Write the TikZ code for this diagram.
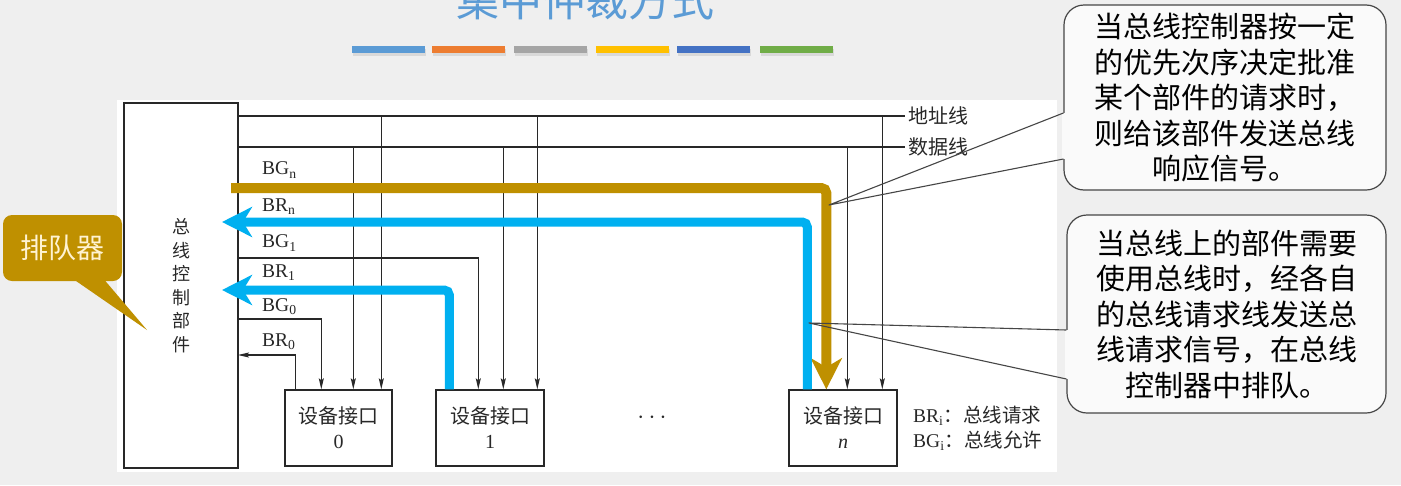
\documentclass[tikz,border=0pt]{standalone}
\usepackage{fontspec}
\setmainfont{Liberation Serif}
\newfontfamily\cjk{Noto Sans CJK SC}
\usepackage{tikz}
\usetikzlibrary{arrows.meta,positioning,calc}
\definecolor{PageGray}{RGB}{239,239,239}
\definecolor{NoteFill}{RGB}{250,250,250}
\definecolor{NoteEdge}{RGB}{70,70,70}
\definecolor{TitleBlue}{RGB}{91,155,213}
\definecolor{BarOrange}{RGB}{237,125,49}
\definecolor{BarGray}{RGB}{165,165,165}
\definecolor{BarYellow}{RGB}{255,192,0}
\definecolor{BarBlue}{RGB}{68,114,196}
\definecolor{BarGreen}{RGB}{112,173,71}
\definecolor{GrantGold}{RGB}{191,144,0}
\definecolor{QueueText}{RGB}{255,243,210}
\definecolor{RequestBlue}{RGB}{0,176,240}
\definecolor{WireGray}{RGB}{40,40,40}
\tikzset{
  ctrlbox/.style={draw=WireGray,line width=1.4pt,minimum width=114pt,
    minimum height=365pt,align=center,inner sep=0pt,text=WireGray,
    font=\cjk\fontsize{18}{23.5}\selectfont},
  unitbox/.style={draw=WireGray,line width=1.4pt,fill=white,minimum width=108pt,
    minimum height=76pt,align=center,text=WireGray,font=\fontsize{20}{25}\selectfont},
  buslabel/.style={anchor=west,inner sep=3pt,text=WireGray,
    font=\cjk\fontsize{20}{20}\selectfont},
  siglabel/.style={anchor=west,inner sep=0pt,text=WireGray,
    font=\fontsize{19.5}{20}\selectfont},
  wire/.style={draw=WireGray,line width=1.1pt},
  tap/.style={wire,-{Stealth[length=11pt,width=5pt,inset=2pt]}},
  grant/.style={draw=GrantGold,line width=10pt,rounded corners=5pt,
    -{Stealth[length=31pt,width=31pt,inset=9pt]}},
  request/.style={draw=RequestBlue,line width=9pt,rounded corners=5pt,
    -{Stealth[length=30pt,width=30pt,inset=9pt]}},
  notebox/.style={draw=NoteEdge,line width=1.2pt,fill=NoteFill,
    rounded corners=20pt,align=center,inner sep=0pt,
    font=\cjk\fontsize{29}{35.5}\selectfont},
  noteline/.style={draw=NoteEdge,line width=1.1pt,line join=round},
  queuebox/.style={fill=GrantGold,rounded corners=9pt,minimum width=119pt,
    minimum height=66pt,text=QueueText,font=\cjk\fontsize{28}{30}\selectfont}
}
\begin{document}
\begin{tikzpicture}[x=1pt,y=-1pt]
\useasboundingbox (0,0) rectangle (1401,485);
\fill[PageGray] (0,0) rectangle (1401,485);
\node[anchor=base,text=TitleBlue,font=\cjk\fontsize{43}{43}\selectfont] (title) at (585,16) {集中仲裁方式};
% colour bars under the title
\foreach \bx/\bc in {352/TitleBlue,432/BarOrange,514/BarGray,596/BarYellow,677/BarBlue,760/BarGreen}{
  \fill[black!15] (\bx+1,49) rectangle (\bx+74,56);
  \fill[\bc] (\bx,46) rectangle (\bx+73,53);
}
\fill[white] (117,100) rectangle (1057,472);

% controller and devices
\node[ctrlbox] (ctrl) at (181,285.5) {总\\线\\控\\制\\部\\件};
\node[unitbox,minimum width=107pt] (dev0) at (338.5,428) {{\cjk 设备接口}\\0};
\node[unitbox] (dev1) at (490,428) {{\cjk 设备接口}\\1};
\node[unitbox] (devn) at (843,428) {{\cjk 设备接口}\\\textit{n}};
\node[text=WireGray,font=\fontsize{26}{26}\selectfont] (dots) at (652,418) {$\cdots$};

\path (dev0.north west) ++(11,0) coordinate (r0) ++(26,0) coordinate (g0) ++(32,0) coordinate (d0) ++(28,0) coordinate (a0);
\path (dev1.north west) ++(14,0) coordinate (r1) ++(29,0) coordinate (g1) ++(25,0) coordinate (d1) ++(34,0) coordinate (a1);
\path (devn.north west) ++(19,0) coordinate (rn) ++(19,0) coordinate (gn) ++(21,0) coordinate (dn) ++(35,0) coordinate (an);

% address and data bus
\node[buslabel] (addr) at (905,116) {地址线};
\node[buslabel] (data) at (905,147) {数据线};
\draw[wire] (ctrl.east |- addr) -- (addr.west);
\draw[wire] (ctrl.east |- data) -- (data.west);
\foreach \t in {a0,a1,an} \draw[tap] (addr -| \t) -- (\t);
\foreach \t in {d0,d1,dn} \draw[tap] (data -| \t) -- (\t);

% grant / request lines
\coordinate (bgnrow) at (238,188);
\coordinate (brnrow) at (238,222);
\coordinate (bg1row) at (238,258);
\coordinate (br1row) at (238,290);
\coordinate (bg0row) at (238,319);
\coordinate (br0row) at (238,355);
\node[siglabel] (bgnlbl) at (262,170) {BG\textsubscript{n}};
\node[siglabel] (brnlbl) at (262,207) {BR\textsubscript{n}};
\node[siglabel] (bg1lbl) at (262,243) {BG\textsubscript{1}};
\node[siglabel] (br1lbl) at (262,273) {BR\textsubscript{1}};
\node[siglabel] (bg0lbl) at (262,307) {BG\textsubscript{0}};
\node[siglabel] (br0lbl) at (262,342) {BR\textsubscript{0}};
\draw[tap] (bgnrow) -| (gn);
\draw[tap] (rn) |- (brnrow);
\draw[tap] (bg1row) -| (g1);
\draw[tap] (r1) |- (br1row);
\draw[tap] (bg0row) -| (g0);
\draw[tap] (r0) |- (br0row);
\draw[grant] ([xshift=-7pt]bgnrow) -| (gn);
\draw[request] (rn) |- ([xshift=-16pt]brnrow);
\draw[request] (r1) |- ([xshift=-16pt]br1row);

\node[siglabel] (brkey) at (913,416) {BR\textsubscript{i}{\cjk ：总线请求}};
\node[siglabel] (bgkey) at (913,441) {BG\textsubscript{i}{\cjk ：总线允许}};

% queue callout
\node[queuebox] (queue) at (62.5,248) {排队器};
\coordinate (queuetip) at (147,330);
\fill[GrantGold] ([xshift=9.5pt,yshift=3pt]queue.south) -- (queuetip) -- ([xshift=40.5pt,yshift=3pt]queue.south) -- cycle;

% notes
\node[notebox,minimum width=322pt,minimum height=185pt] (note1) at (1225,97.5)
  {当总线控制器按一定\\的优先次序决定批准\\某个部件的请求时，\\则给该部件发送总线\\响应信号。};
\coordinate (tip1) at (829,205);
\path ([yshift=-15.5pt]note1.west) coordinate (n1a) ([yshift=-61.5pt]note1.west) coordinate (n1b);
\fill[NoteFill] ([xshift=-1.5pt]n1a) rectangle ([xshift=1.5pt]n1b);
\draw[noteline] (n1a) -- (tip1) -- (n1b);

\node[notebox,minimum width=319pt,minimum height=198pt] (note2) at (1226.5,314)
  {当总线上的部件需要\\使用总线时，经各自\\的总线请求线发送总\\线请求信号，在总线\\控制器中排队。};
\coordinate (tip2) at (809,323);
\path ([yshift=-16pt]note2.west) coordinate (n2a) ([yshift=-65pt]note2.west) coordinate (n2b);
\fill[NoteFill] ([xshift=-1.5pt]n2a) rectangle ([xshift=1.5pt]n2b);
\draw[noteline] (n2a) -- (tip2) -- (n2b);
\end{tikzpicture}
\end{document}
